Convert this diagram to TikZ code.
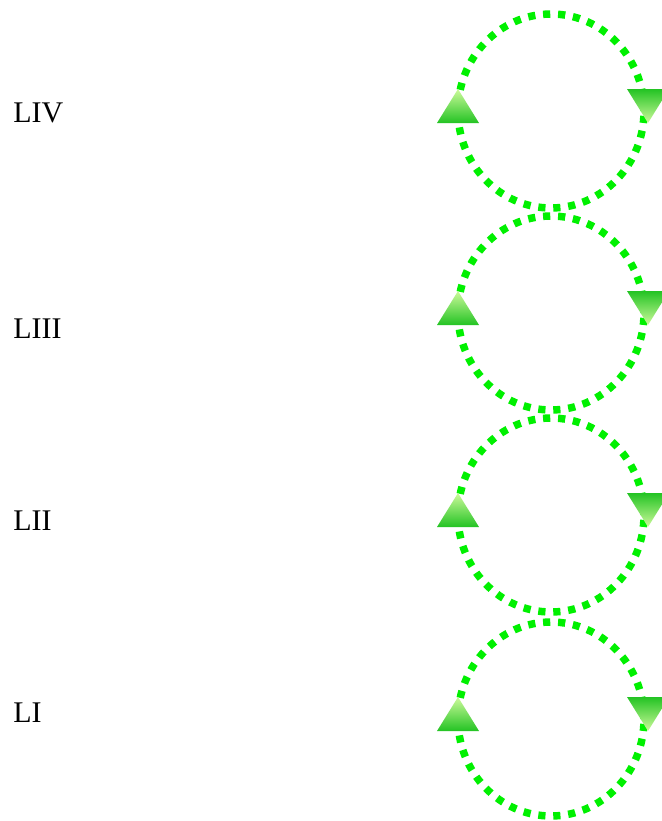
\documentclass[tikz,border=0pt]{standalone}
\usepackage{fontspec}
\setmainfont{Liberation Serif}
\definecolor{loopGreen}{RGB}{0,240,0}
\definecolor{tipLight}{RGB}{205,250,155}
\definecolor{tipDark}{RGB}{35,195,35}

\begin{document}
\begin{tikzpicture}[x=0.75pt, y=-0.75pt,
    loop/.style={draw=loopGreen, line width=5.6pt, dash pattern=on 5.4pt off 5.85pt},
    lbl/.style={anchor=base west, inner sep=0pt, font=\fontsize{22.5}{27}\selectfont}]
  \useasboundingbox (0,0) rectangle (661,821);
  \foreach \name/\cy/\ty in {LIV/111/122, LIII/313/338, LII/515/530, LI/719/722} {
    \node[lbl] (\name) at (13,\ty) {\name};
    \coordinate (c\name) at (551,\cy);
    \draw[loop] (c\name) ellipse [x radius=69.75pt, y radius=72.75pt];
    % up tip on the left, down tip on the right
    \shade[top color=tipLight, bottom color=tipDark] (458,{\cy-22}) -- (479,{\cy+12}) -- (437,{\cy+12}) -- cycle;
    \shade[top color=tipDark, bottom color=tipLight] (627,{\cy-22}) -- (669,{\cy-22}) -- (648,{\cy+12}) -- cycle;
  }
\end{tikzpicture}
\end{document}
